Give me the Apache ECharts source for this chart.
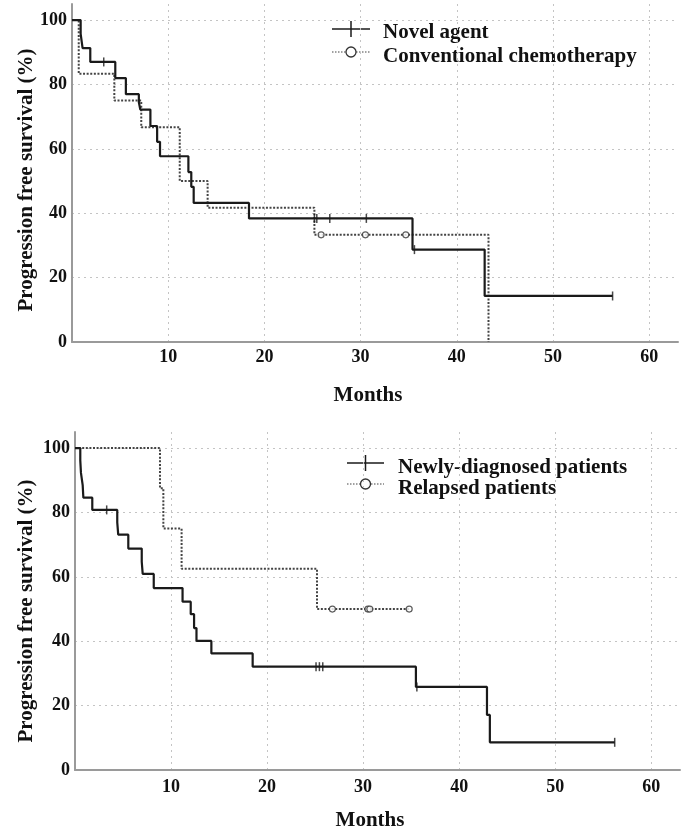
<!DOCTYPE html>
<html>
<head>
<meta charset="utf-8">
<script src="https://cdn.jsdelivr.net/npm/echarts@6/dist/echarts.min.js"></script>
<style>
html,body{margin:0;padding:0;background:#fff;}
#c{width:685px;height:832px;}
</style>
</head>
<body>
<div id="c"></div>
<script>
// ---- Data (months, survival %) ----
const xTicks = [0, 10, 20, 30, 40, 50, 60];
const yTicks = [0, 20, 40, 60, 80, 100];

// Top panel
const novelSteps = [[0,100],[0.9,95.7],[1.1,91.3],[1.9,87.0],[4.5,82.0],[5.6,77.0],[6.95,74.5],[7.1,72.2],[8.15,67.1],[8.85,62.2],[9.15,57.7],[12.1,52.8],[12.4,48.2],[12.65,43.2],[18.4,38.4],[35.4,28.7],[42.9,14.3],[56.2,14.3]];
const novelCensor = [[3.3,87.0],[25.2,38.4],[25.45,38.4],[26.8,38.4],[30.6,38.4],[35.6,28.7],[56.2,14.3]];
const convSteps = [[0,100],[0.7,83.3],[4.4,75.0],[7.2,66.7],[11.2,50.0],[14.1,41.7],[25.2,33.3],[43.3,0]];
const convCensor = [[25.9,33.3],[30.5,33.3],[34.7,33.3]];

// Bottom panel
const newSteps = [[0,100],[0.55,96.2],[0.62,92.3],[0.8,88.5],[0.87,84.6],[1.8,80.8],[4.4,76.9],[4.5,73.1],[5.55,68.8],[6.95,64.7],[7.05,60.9],[8.2,56.5],[11.2,52.3],[12.05,48.4],[12.4,44.1],[12.65,40.1],[14.2,36.2],[18.5,32.1],[35.5,25.8],[42.9,17.1],[43.2,8.6],[56.2,8.6]];
const newCensor = [[3.3,80.8],[25.1,32.1],[25.45,32.1],[25.8,32.1],[35.6,25.8],[56.2,8.6]];
const relSteps = [[0,100],[8.85,87.5],[9.2,75.0],[11.1,62.5],[25.2,50.0],[34.8,50.0]];
const relCensor = [[26.8,50.0],[30.5,50.0],[30.7,50.0],[34.8,50.0]];

const legendTop = ['Novel agent', 'Conventional chemotherapy'];
const legendBottom = ['Newly-diagnosed patients', 'Relapsed patients'];
const yTitle = 'Progression free survival (%)';
const xTitle = 'Months';

// ---- Styling ----
const FONT = '"Liberation Serif", "Times New Roman", serif';
const SOLID = '#1a1a1a';
const DOT = '#444';
const AXIS = '#9a9a9a';
const GRID = '#c4c4c4';

function xAxisCfg(gi, margin) {
  return {
    type: 'value', gridIndex: gi, min: 0, max: 63, interval: 10,
    axisLine: {show: true, onZero: false, lineStyle: {color: AXIS, width: 2}},
    axisTick: {show: false},
    axisLabel: {margin: margin, color: '#111', fontFamily: FONT, fontWeight: 'bold', fontSize: 18,
      showMaxLabel: false, showMinLabel: false,
      formatter: v => (xTicks.indexOf(v) >= 0 ? String(v) : '')},
    splitLine: {show: true, showMinLine: false, showMaxLine: false, lineStyle: {color: GRID, type: [2, 4], width: 1}}
  };
}
function yAxisCfg(gi) {
  return {
    type: 'value', gridIndex: gi, min: 0, max: 105, interval: 20,
    axisLine: {show: true, onZero: false, lineStyle: {color: AXIS, width: 2}},
    axisTick: {show: false},
    axisLabel: {margin: 5, color: '#111', fontFamily: FONT, fontWeight: 'bold', fontSize: 18,
      showMaxLabel: false,
      formatter: v => (yTicks.indexOf(v) >= 0 ? String(v) : '')},
    splitLine: {show: true, showMinLine: false, showMaxLine: false, lineStyle: {color: GRID, type: [2, 4], width: 1}}
  };
}
function stepSeries(data, gi, color, type, width) {
  return {type: 'line', xAxisIndex: gi, yAxisIndex: gi, data: data, step: 'end',
    showSymbol: false, symbol: 'none', silent: true, animation: false, z: 3,
    lineStyle: {color: color, width: width, type: type}};
}
function tickSeries(data, gi) {
  return {type: 'scatter', xAxisIndex: gi, yAxisIndex: gi, data: data, symbol: 'rect',
    symbolSize: [1.5, 9], itemStyle: {color: SOLID}, silent: true, animation: false, z: 4};
}
function circleSeries(data, gi) {
  return {type: 'scatter', xAxisIndex: gi, yAxisIndex: gi, data: data, symbol: 'circle',
    symbolSize: 6, itemStyle: {color: '#fff', borderColor: '#333', borderWidth: 1.2}, silent: true, animation: false, z: 5};
}

function legendGraphics(x0, x1, yLine1, yLine2, xText, yText1, yText2, labels) {
  const xm = (x0 + x1) / 2;
  const ts = {fontFamily: FONT, fontWeight: 'bold', fontSize: 21, fill: '#111', verticalAlign: 'middle', align: 'left'};
  return [
    {type: 'line', shape: {x1: x0, y1: yLine1, x2: x1, y2: yLine1}, style: {stroke: SOLID, lineWidth: 1.5}},
    {type: 'line', shape: {x1: xm, y1: yLine1 - 8, x2: xm, y2: yLine1 + 8}, style: {stroke: SOLID, lineWidth: 1.5}},
    {type: 'line', shape: {x1: x0, y1: yLine2, x2: x1, y2: yLine2}, style: {stroke: DOT, lineWidth: 1.2, lineDash: [1.5, 1.5]}},
    {type: 'circle', shape: {cx: xm, cy: yLine2, r: 5}, style: {fill: '#fff', stroke: '#333', lineWidth: 1.3}},
    {type: 'text', x: xText, y: yText1, style: Object.assign({text: labels[0]}, ts)},
    {type: 'text', x: xText, y: yText2, style: Object.assign({text: labels[1]}, ts)}
  ];
}
function titleGraphics(cxY, cyY, cxX, cyX) {
  const ts = {fontFamily: FONT, fontWeight: 'bold', fontSize: 21, fill: '#111', align: 'center', verticalAlign: 'middle'};
  return [
    {type: 'text', x: cxY, y: cyY, rotation: Math.PI / 2, style: Object.assign({text: yTitle}, ts)},
    {type: 'text', x: cxX, y: cyX, style: Object.assign({text: xTitle}, ts)}
  ];
}

const chart = echarts.init(document.getElementById('c'), null, {renderer: 'canvas'});
chart.setOption({
  animation: false,
  backgroundColor: '#fff',
  grid: [
    {left: 72, right: 7, top: 4, height: 338},
    {left: 75, right: 5, top: 432, height: 338}
  ],
  xAxis: [xAxisCfg(0, 6), xAxisCfg(1, 8)],
  yAxis: [yAxisCfg(0), yAxisCfg(1)],
  series: [
    stepSeries(convSteps, 0, DOT, [2, 1.6], 2),
    stepSeries(novelSteps, 0, SOLID, 'solid', 2.2),
    circleSeries(convCensor, 0),
    tickSeries(novelCensor, 0),
    stepSeries(relSteps, 1, DOT, [2, 1.6], 2),
    stepSeries(newSteps, 1, SOLID, 'solid', 2.2),
    circleSeries(relCensor, 1),
    tickSeries(newCensor, 1)
  ],
  graphic: [].concat(
    legendGraphics(332, 370, 29, 52, 383, 33, 57, legendTop),
    legendGraphics(347, 384, 463, 484, 398, 468, 489, legendBottom),
    titleGraphics(27, 180, 368, 396),
    titleGraphics(27, 611, 370, 821)
  )
});
</script>
</body>
</html>
